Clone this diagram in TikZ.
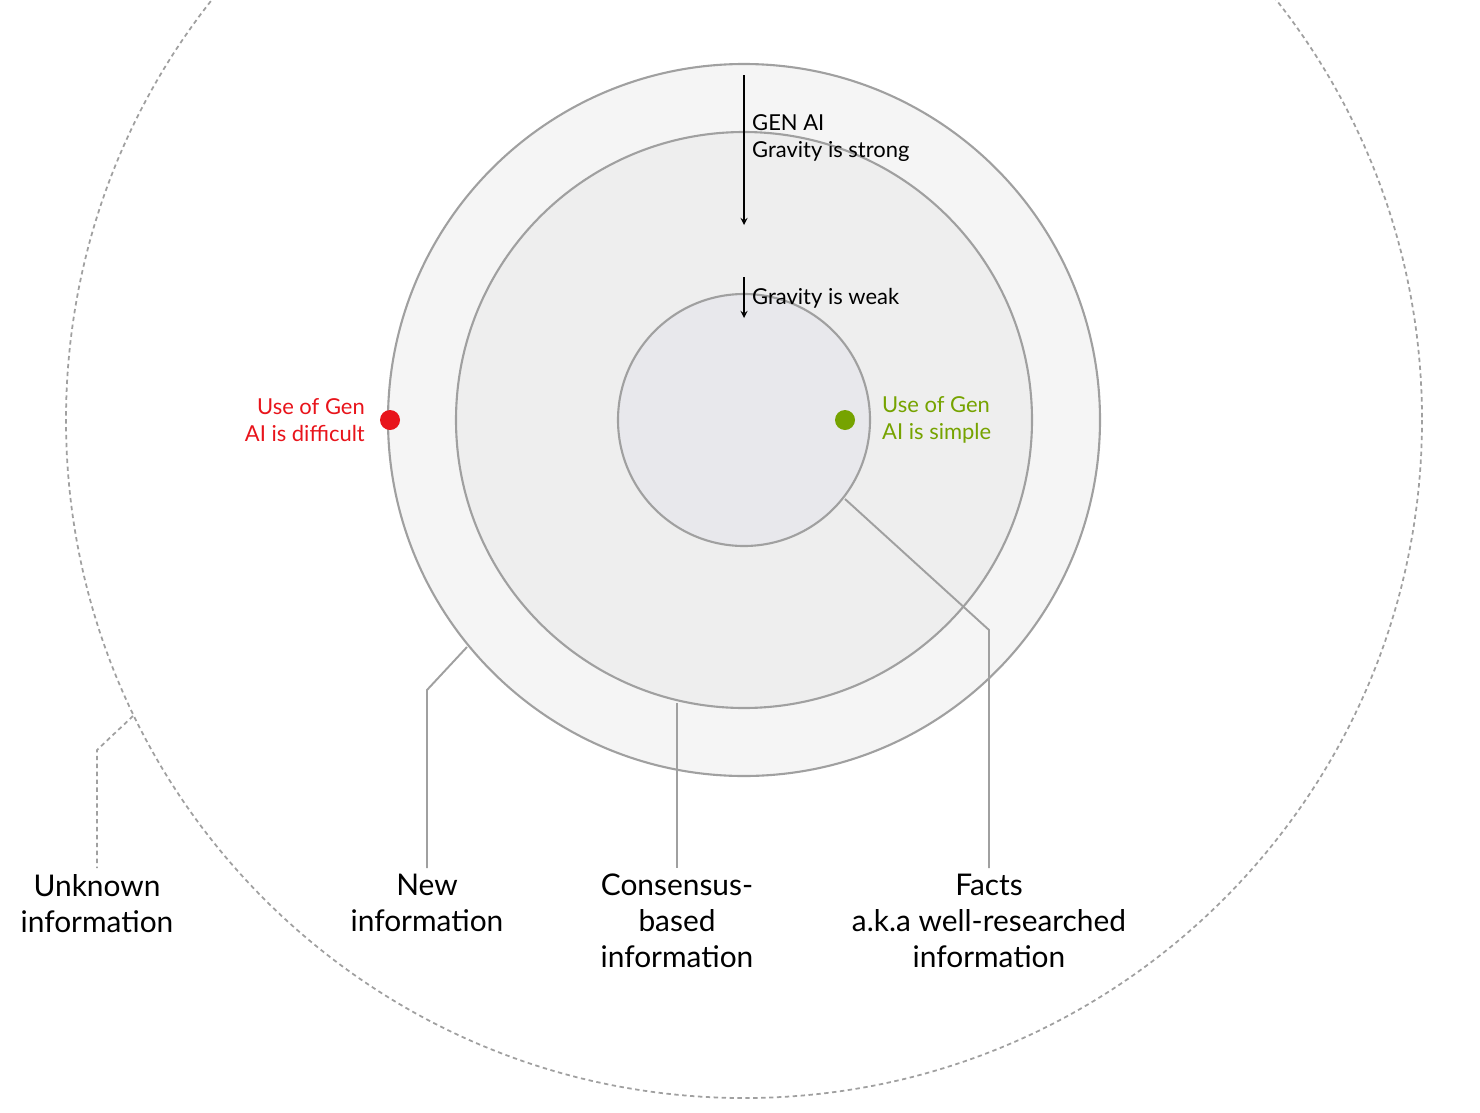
\documentclass[tikz,border=0pt]{standalone}
\usepackage{fontspec}
\setmainfont{Lato}
\definecolor{ringline}{HTML}{A0A0A0}
\definecolor{gaired}{HTML}{E8141B}
\definecolor{gaigreen}{HTML}{76A300}
\tikzset{
  ring/.style={draw=ringline, line width=1.2pt},
  lead/.style={draw=ringline, line width=1.1pt},
  biglabel/.style={align=center, font=\fontsize{17}{20.5}\selectfont, anchor=north},
  smalllabel/.style={font=\fontsize{12.5}{15.5}\selectfont}
}
\begin{document}
\begin{tikzpicture}[x=0.02cm, y=-0.02cm]
  \useasboundingbox (0,0) rectangle (1480,1112);

  % rings
  \draw[ringline, line width=1pt, dash pattern=on 2.5pt off 2pt] (744,420) circle (678);
  \draw[ring, fill={rgb,255:red,245;green,245;blue,245}] (744,420) circle (356);
  \draw[ring, fill={rgb,255:red,238;green,238;blue,238}] (744,420) circle (288);
  \draw[ring, fill={rgb,255:red,232;green,232;blue,236}] (744,420) circle (126);

  % gravity arrows
  \coordinate (s1) at (744,75);  \coordinate (s2) at (744,225);
  \coordinate (w1) at (744,277); \coordinate (w2) at (744,318);
  \draw[-stealth, thick] (s1) -- (s2);
  \draw[-stealth, thick] (w1) -- (w2);
  \node[smalllabel, anchor=north west, align=left] (strong) at (746,108) {GEN AI\\Gravity is strong};
  \node[smalllabel, anchor=west] (weak) at (746,298) {Gravity is weak};

  % use of gen ai
  \fill[gaired] (390,420) circle (10);
  \node[smalllabel, text=gaired, align=right, anchor=east] (hard) at (371,420) {Use of Gen\\AI is difficult};
  \fill[gaigreen] (845,420) circle (10);
  \node[smalllabel, text=gaigreen, align=left, anchor=west] (easy) at (876,420) {Use of Gen\\AI is simple};

  % labels
  \node[biglabel] (unknown) at (97,868) {Unknown\\information};
  \node[biglabel] (new) at (427,868) {New\\information};
  \node[biglabel] (cons) at (677,868) {Consensus-\\based\\information};
  \node[biglabel] (facts) at (989,868) {Facts\\a.k.a well-researched\\information};

  % leader lines
  \draw[ringline, line width=1pt, dash pattern=on 2.5pt off 2pt] (133,716) -- (97,750) -- (unknown.north);
  \draw[lead] (467,647) -- (427,690) -- (new.north);
  \draw[lead] (677,703) -- (cons.north);
  \draw[lead] (845,499) -- (989,630) -- (facts.north);
\end{tikzpicture}
\end{document}
